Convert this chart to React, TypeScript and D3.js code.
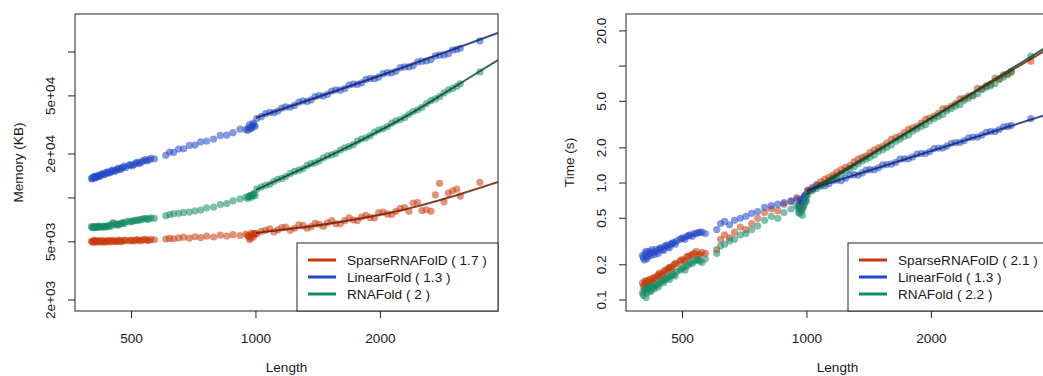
import React from "react";
import * as d3 from "d3";

// sequence lengths (shared by every tool)
const lengths = [
  400, 404, 408, 412, 417, 422, 428, 434, 440, 447, 454, 461, 468, 476, 484, 493, 502, 512, 522, 533, 545, 557, 568,
  605, 618, 632, 650, 668, 690, 712, 735, 760, 790, 820, 850, 880, 915, 945, 960, 970, 980, 990,
  1030, 1080, 1130, 1180, 1240, 1300, 1360, 1420, 1490, 1560, 1640, 1720, 1800, 1890, 1980, 2080, 2180, 2290, 2400,
  2520, 2650, 2780, 2920, 3060, 3120, 3480,
];
// more sequences in the dense ranges
const lengths2 = [
  402, 406, 410, 415, 419, 425, 431, 437, 444, 450, 458, 465, 472, 480, 497, 507, 517, 528, 540, 551,
  955, 965, 975, 985, 995,
  1005, 1055, 1105, 1155, 1210, 1270, 1330, 1390, 1455, 1525, 1600, 1680, 1760, 1845, 1935, 2030, 2130, 2235,
  2345, 2460, 2585, 2715, 2850, 2990,
];

// memory (KB)
const memSparse = [
  5050, 4980, 5100, 5020, 5060, 4990, 5080, 5030, 5100, 5040, 5090, 5020, 5110, 5060, 5130, 5070, 5110, 5150, 5100, 5180, 5130, 5210, 5170,
  5230, 5280, 5250, 5320, 5380, 5300, 5420, 5350, 5470, 5400, 5560, 5480, 5600, 5520, 5650, 5450, 5300, 5600, 5700,
  5900, 6150, 6050, 6300, 6200, 6450, 6350, 6600, 6750, 6650, 7000, 7050, 7400, 7350, 7900, 7750, 8100, 8600, 9200,
  8200, 8100, 12600, 10800, 11500, 10300, 12800,
];
const memSparse2 = [
  5000, 5120, 4960, 5080, 5010, 5110, 4970, 5090, 5000, 5120, 5030, 5140, 5000, 5120, 5150, 5060, 5180, 5090, 5200, 5110,
  5550, 5200, 5750, 5400, 5650,
  5700, 6000, 5850, 6250, 6000, 6550, 6200, 6700, 6400, 7000, 6650, 7300, 7000, 7600, 7300, 8000, 7700, 8500,
  8100, 9300, 8300, 10500, 9400, 11200,
];
const memLinear = [
  13600, 13900, 13700, 14100, 14000, 14500, 14400, 14900, 14800, 15300, 15200, 15700, 15600, 16200, 16100, 16700, 16600, 17300, 17200, 18000, 17900, 18700, 18500,
  19600, 20600, 20500, 21600, 21700, 22900, 23000, 24200, 24500, 25300, 26800, 26900, 28000, 29600, 29500, 30200, 29800, 31200, 31600,
  36000, 38600, 39400, 42000, 43000, 46200, 47000, 50300, 51300, 55000, 56200, 60200, 61400, 65900, 67200, 72100, 73700, 79000, 80700,
  86500, 88700, 95000, 97200, 104000, 106000, 119000,
];
const memLinear2 = [
  13500, 14000, 13800, 14300, 14100, 14700, 14500, 15100, 14900, 15500, 15400, 16000, 15800, 16500, 16900, 16900, 17600, 17500, 18300, 18200,
  29000, 31800, 30100, 32500, 30800,
  35000, 37800, 38400, 41300, 41800, 45300, 45800, 49400, 50000, 54000, 54700, 59300, 60000, 64800, 65600, 71000, 72000, 78000,
  79000, 85500, 86800, 94000, 95500, 103000,
];
const memRNAfold = [
  6350, 6250, 6330, 6280, 6380, 6300, 6420, 6350, 6450, 6500, 6720, 6560, 6650, 6750, 6850, 6950, 6900, 7050, 7100, 7200, 7150, 7300, 7250,
  7550, 7700, 7800, 7850, 7950, 8000, 8150, 8250, 8550, 8650, 9000, 9150, 9550, 9850, 10150, 10200, 10400, 10450, 10700,
  11900, 12400, 13400, 14000, 15200, 15900, 17200, 17900, 19400, 20200, 22000, 23200, 25300, 26700, 29200, 30800, 33700, 35600, 39100,
  41700, 46400, 49400, 54800, 58200, 60500, 73000,
];
const memRNAfold2 = [
  6300, 6350, 6260, 6400, 6320, 6370, 6300, 6420, 6380, 6750, 6550, 6500, 6700, 6680, 6850, 7000, 6980, 7100, 7250, 7180,
  9900, 10300, 10100, 10600, 10350,
  11500, 12200, 13000, 13600, 14700, 15500, 16700, 17400, 18800, 19700, 21300, 22500, 24500, 25800, 28200, 29800, 32500, 34500,
  37400, 40200, 44300, 47700, 52400, 56300,
];

// time (s)
const timeSparse = [
  0.14, 0.135, 0.145, 0.14, 0.15, 0.145, 0.155, 0.16, 0.17, 0.165, 0.18, 0.185, 0.19, 0.2, 0.205, 0.215, 0.22, 0.235, 0.24, 0.25, 0.24, 0.255, 0.25,
  0.27, 0.33, 0.36, 0.34, 0.38, 0.42, 0.4, 0.45, 0.5, 0.56, 0.6, 0.58, 0.66, 0.7, 0.75, 0.62, 0.68, 0.72, 0.78,
  0.92, 1.03, 1.12, 1.24, 1.36, 1.52, 1.66, 1.82, 2.0, 2.2, 2.45, 2.7, 2.95, 3.25, 3.6, 3.95, 4.35, 4.8, 5.3,
  5.6, 6.4, 7.0, 7.7, 8.5, 8.9, 11.0,
];
const timeSparse2 = [
  0.13, 0.145, 0.135, 0.148, 0.14, 0.155, 0.15, 0.165, 0.16, 0.175, 0.175, 0.19, 0.185, 0.205, 0.22, 0.215, 0.235, 0.245, 0.26, 0.245,
  0.65, 0.72, 0.6, 0.76, 0.8,
  0.87, 0.97, 1.08, 1.17, 1.3, 1.41, 1.6, 1.7, 1.92, 2.06, 2.36, 2.52, 2.88, 3.06, 3.5, 3.74, 4.3, 4.55,
  5.25, 5.55, 6.45, 6.8, 7.9, 8.4,
];
const timeLinear = [
  0.24, 0.22, 0.26, 0.235, 0.25, 0.27, 0.245, 0.26, 0.275, 0.27, 0.29, 0.285, 0.3, 0.31, 0.32, 0.33, 0.34, 0.35, 0.36, 0.37, 0.375, 0.38, 0.37,
  0.4, 0.45, 0.47, 0.44, 0.48, 0.5, 0.52, 0.55, 0.57, 0.62, 0.64, 0.66, 0.68, 0.7, 0.73, 0.64, 0.69, 0.74, 0.78,
  0.89, 0.96, 0.99, 1.06, 1.1, 1.18, 1.22, 1.3, 1.35, 1.44, 1.5, 1.61, 1.67, 1.79, 1.86, 1.99, 2.07, 2.22, 2.3,
  2.47, 2.57, 2.76, 2.87, 3.05, 3.1, 3.55,
];
const timeLinear2 = [
  0.23, 0.25, 0.225, 0.26, 0.24, 0.255, 0.27, 0.25, 0.28, 0.265, 0.295, 0.28, 0.305, 0.3, 0.335, 0.33, 0.355, 0.35, 0.37, 0.38,
  0.6, 0.72, 0.66, 0.76, 0.7,
  0.86, 0.95, 0.95, 1.05, 1.05, 1.17, 1.17, 1.29, 1.3, 1.43, 1.45, 1.6, 1.61, 1.77, 1.79, 1.97, 1.99, 2.19,
  2.22, 2.44, 2.47, 2.72, 2.76, 3.03,
];
const timeRNAfold = [
  0.115, 0.12, 0.105, 0.125, 0.12, 0.13, 0.125, 0.135, 0.14, 0.145, 0.15, 0.155, 0.16, 0.165, 0.175, 0.18, 0.19, 0.195, 0.21, 0.215, 0.22, 0.21, 0.225,
  0.25, 0.29, 0.3, 0.32, 0.33, 0.36, 0.37, 0.4, 0.43, 0.48, 0.52, 0.5, 0.56, 0.6, 0.64, 0.55, 0.58, 0.62, 0.7,
  0.86, 0.94, 1.05, 1.13, 1.27, 1.38, 1.55, 1.66, 1.86, 2.02, 2.28, 2.5, 2.78, 3.05, 3.4, 3.7, 4.15, 4.55, 5.1,
  5.6, 6.3, 6.8, 7.8, 8.5, 9.0, 12.2,
];
const timeRNAfold2 = [
  0.11, 0.125, 0.115, 0.13, 0.118, 0.128, 0.135, 0.13, 0.145, 0.14, 0.155, 0.15, 0.165, 0.16, 0.185, 0.18, 0.2, 0.205, 0.22, 0.215,
  0.56, 0.6, 0.53, 0.65, 0.74,
  0.8, 0.9, 0.99, 1.1, 1.19, 1.33, 1.46, 1.6, 1.74, 1.93, 2.12, 2.37, 2.58, 2.9, 3.15, 3.55, 3.85, 4.35,
  4.7, 5.3, 5.8, 6.6, 7.1, 8.05,
];

// fitted curves (length, value)
const memFitSparse: [number, number][] = [[1000, 5760], [1610, 6860], [2430, 8680], [2915, 10020], [3850, 12860]];
const memFitLinear: [number, number][] = [[1000, 35400], [2000, 69000], [3850, 135000]];
const memFitRNAfold: [number, number][] = [[1000, 11350], [1650, 22000], [2340, 37100], [3080, 59600], [3850, 88000]];
const timeFitSparse: [number, number][] = [[1000, 0.84], [3850, 14.2]];
const timeFitLinear: [number, number][] = [[1000, 0.87], [3850, 3.9]];
const timeFitRNAfold: [number, number][] = [[1000, 0.8], [3850, 15.0]];

const toolNames = ["SparseRNAFolD", "LinearFold", "RNAFold"];
const memExponents = ["1.7", "1.3", "2"];
const timeExponents = ["2.1", "1.3", "2.2"];

const xTicks = [500, 1000, 2000];
const memTicks = [2000, 5000, 10000, 20000, 50000, 100000];
const memTickLabels = ["2e+03", "5e+03", "", "2e+04", "5e+04", ""];
const timeTicks = [0.1, 0.2, 0.5, 1, 2, 5, 10, 20];
const timeTickLabels = ["0.1", "0.2", "0.5", "1.0", "2.0", "5.0", "", "20.0"];

const colors = ["#c8380a", "#2146c7", "#128a62"];
const FONT = "Liberation Sans, Arial, Helvetica, sans-serif";
const FS = 13.6;
const TOP = 14;
const BOTTOM = 311;

interface PanelProps {
  x0: number;
  x1: number;
  yDomain: [number, number];
  ticks: number[];
  tickLabels: string[];
  ylabel: string;
  values: number[][];
  values2: number[][];
  fits: [number, number][][];
  exps: string[];
}

const Panel: React.FC<PanelProps> = ({ x0, x1, yDomain, ticks, tickLabels, ylabel, values, values2, fits, exps }) => {
  const x = d3.scaleLog().domain([365, 3850]).range([x0, x1]);
  const y = d3.scaleLog().domain(yDomain).range([BOTTOM, TOP]);
  const line = d3
    .line<[number, number]>()
    .x((d) => x(d[0]))
    .y((d) => y(d[1]))
    .curve(d3.curveMonotoneX);
  const clipId = `clip-${x0}`;
  const legX = x1 - 201;
  const legY = BOTTOM - 68;

  const pts = values.map((vals, s) =>
    vals
      .map((v, i) => [lengths[i], v])
      .concat(values2[s].map((v, i) => [lengths2[i], v]))
  );

  return (
    <g>
      <defs>
        <clipPath id={clipId}>
          <rect x={x0} y={TOP} width={x1 - x0} height={BOTTOM - TOP} />
        </clipPath>
      </defs>
      <g clipPath={`url(#${clipId})`}>
        {pts.map((p, s) => (
          <g key={s} fill={colors[s]} fillOpacity={0.55}>
            {p.map((d, i) => (
              <circle key={i} cx={x(d[0])} cy={y(d[1])} r={3.6} />
            ))}
          </g>
        ))}
        {fits.map((f, s) => (
          <path
            key={s}
            d={line(f) || ""}
            fill="none"
            stroke={d3.color(colors[s])!.darker(1.6).toString()}
            strokeOpacity={0.85}
            strokeWidth={2}
          />
        ))}
      </g>
      <rect x={x0} y={TOP} width={x1 - x0} height={BOTTOM - TOP} fill="none" stroke="#222" strokeWidth={1} />
      {xTicks.map((t) => (
        <g key={t}>
          <line x1={x(t)} x2={x(t)} y1={BOTTOM} y2={BOTTOM + 7} stroke="#222" />
          <text x={x(t)} y={343} textAnchor="middle">
            {t}
          </text>
        </g>
      ))}
      {ticks.map((t, i) => (
        <g key={t}>
          <line x1={x0 - 7} x2={x0} y1={y(t)} y2={y(t)} stroke="#222" />
          {tickLabels[i] && (
            <text transform={`translate(${x0 - 20},${y(t)}) rotate(-90)`} textAnchor="middle">
              {tickLabels[i]}
            </text>
          )}
        </g>
      ))}
      <text x={(x0 + x1) / 2} y={372} textAnchor="middle">
        Length
      </text>
      <text transform={`translate(${x0 - 52},${(TOP + BOTTOM) / 2}) rotate(-90)`} textAnchor="middle">
        {ylabel}
      </text>
      <rect x={legX} y={legY} width={201} height={68} fill="#fff" stroke="#222" />
      {toolNames.map((n, i) => (
        <g key={n}>
          <line
            x1={legX + 11}
            x2={legX + 39}
            y1={legY + 17 + i * 17}
            y2={legY + 17 + i * 17}
            stroke={colors[i]}
            strokeWidth={3}
          />
          <text x={legX + 50} y={legY + 17 + i * 17 + 5}>
            {`${n} ( ${exps[i]} )`}
          </text>
        </g>
      ))}
    </g>
  );
};

export default function App() {
  return (
    <svg
      width={1043}
      height={376}
      style={{ position: "absolute", left: 0, top: 0, background: "#fff" }}
      fontFamily={FONT}
      fontSize={FS}
      fill="#1a1a1a"
    >
      <Panel
        x0={75}
        x1={498}
        yDomain={[1680, 182000]}
        ticks={memTicks}
        tickLabels={memTickLabels}
        ylabel="Memory (KB)"
        values={[memSparse, memLinear, memRNAfold]}
        values2={[memSparse2, memLinear2, memRNAfold2]}
        fits={[memFitSparse, memFitLinear, memFitRNAfold]}
        exps={memExponents}
      />
      <Panel
        x0={626}
        x1={1049}
        yDomain={[0.0805, 27.9]}
        ticks={timeTicks}
        tickLabels={timeTickLabels}
        ylabel="Time (s)"
        values={[timeSparse, timeLinear, timeRNAfold]}
        values2={[timeSparse2, timeLinear2, timeRNAfold2]}
        fits={[timeFitSparse, timeFitLinear, timeFitRNAfold]}
        exps={timeExponents}
      />
    </svg>
  );
}
